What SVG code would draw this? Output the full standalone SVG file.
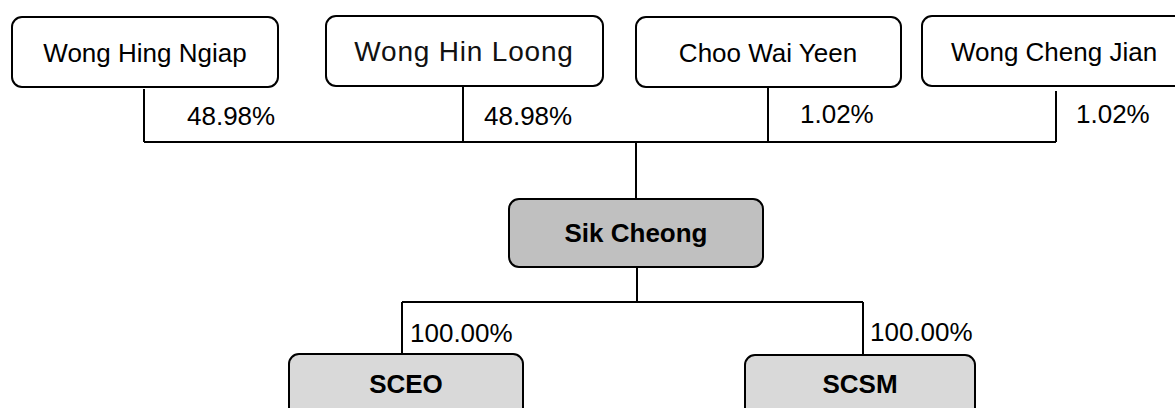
<svg xmlns="http://www.w3.org/2000/svg" width="1175" height="408" viewBox="0 0 1175 408">
<style>
.box{fill:#ffffff;stroke:#000;stroke-width:2}
.parent{fill:#c0c0c0;stroke:#000;stroke-width:2}
.sub{fill:#d9d9d9;stroke:#000;stroke-width:2}
.t{font-family:"Liberation Sans",Arial,sans-serif;font-size:26px;fill:#000;text-anchor:middle}
.b{font-weight:bold}
.lbl{font-family:"Liberation Sans",Arial,sans-serif;font-size:26px;fill:#000}
.ln{fill:none;stroke:#000;stroke-width:2}
</style>
<rect width="1175" height="408" fill="#fff"/>
<g id="connectors">
<path class="ln" d="M144,89 V142 M463,87 V142 M768,88 V142 M1056,91 V142 M144,142 H1056 M636,142 V199"/>
<path class="ln" d="M637,267 V302 M402,302 H863 M402,302 V354 M863,302 V355"/>
<text class="lbl" x="187" y="125">48.98%</text>
<text class="lbl" x="484" y="125">48.98%</text>
<text class="lbl" x="800" y="123">1.02%</text>
<text class="lbl" x="1076" y="123">1.02%</text>
<text class="lbl" x="410" y="342">100.00%</text>
<text class="lbl" x="870" y="341">100.00%</text>
</g>
<g id="node-wong-hing-ngiap">
<rect class="box" x="12" y="17" width="266" height="70" rx="10"/>
<text class="t" x="145" y="62">Wong Hing Ngiap</text>
</g>
<g id="node-wong-hin-loong">
<rect class="box" x="326" y="16" width="277" height="70" rx="10"/>
<text class="t" x="464" y="61" style="font-size:28px;letter-spacing:0.8px;fill:#111">Wong Hin Loong</text>
</g>
<g id="node-choo-wai-yeen">
<rect class="box" x="636" y="17" width="265" height="70" rx="10"/>
<text class="t" x="768" y="62">Choo Wai Yeen</text>
</g>
<g id="node-wong-cheng-jian">
<rect class="box" x="922" y="16" width="270" height="70" rx="10"/>
<text class="t" x="1054" y="61">Wong Cheng Jian</text>
</g>
<g id="node-sik-cheong">
<rect class="parent" x="509" y="199" width="254" height="68" rx="10"/>
<text class="t b" x="636" y="242">Sik Cheong</text>
</g>
<g id="node-sceo">
<rect class="sub" x="289" y="354" width="234" height="70" rx="10"/>
<text class="t b" x="406" y="393">SCEO</text>
</g>
<g id="node-scsm">
<rect class="sub" x="745" y="355" width="230" height="70" rx="10"/>
<text class="t b" x="860" y="393">SCSM</text>
</g>
</svg>
